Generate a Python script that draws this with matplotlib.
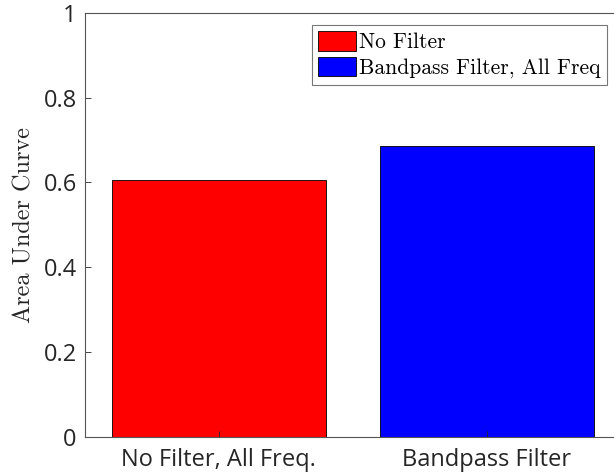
import matplotlib
matplotlib.use("Agg")
import matplotlib.pyplot as plt

# valeurs
categories = ["No Filter, All Freq.", "Bandpass Filter"]
auc = [0.607, 0.686]
legend_labels = ["No Filter", "Bandpass Filter, All Freq"]
colors = ["#ff0000", "#0000ff"]
yticks = [0, 0.2, 0.4, 0.6, 0.8, 1]
ytick_labels = ["0", "0.2", "0.4", "0.6", "0.8", "1"]

fig = plt.figure(figsize=(6.14, 4.73), dpi=100)
# l'axe dépasse à droite comme dans l'original (bord droit coupé)
ax = fig.add_axes([85 / 614, 1 - 436.7 / 473, (620.6 - 85) / 614, (436.7 - 13) / 473])

x = [1, 2]
bars = ax.bar(x, auc, width=0.8, color=colors, edgecolor="black", linewidth=0.6)

ax.set_xlim(0.5, 2.5)
ax.set_ylim(0, 1)
ax.set_xticks(x)
ax.set_xticklabels(categories, fontsize=17, family="Open Sans", color="#262626")
ax.set_yticks(yticks)
ax.set_yticklabels(ytick_labels, fontsize=17, family="Open Sans", color="#262626")
ax.tick_params(direction="in", length=4, width=0.6, color="#262626")
ax.tick_params(axis="x", pad=8)
ax.tick_params(axis="y", pad=6)
for s in ax.spines.values():
    s.set_color("#555555")
    s.set_linewidth(0.8)

ax.set_ylabel("Area Under Curve", fontsize=17.5, family="cmr10", color="#262626", labelpad=6)

leg = ax.legend(bars, legend_labels, loc="upper right", bbox_to_anchor=((607 - 85) / (620.6 - 85), 1 - 12 / 423.7),
                prop={"family": "cmr10", "size": 15.5}, frameon=True, fancybox=False,
                handlelength=1.75, handleheight=1.0, handletextpad=0.15, borderpad=0.3,
                labelspacing=0.2, borderaxespad=0)
leg.get_frame().set_edgecolor("#555555")
leg.get_frame().set_linewidth(0.8)

fig.savefig("out.png", dpi=100)
